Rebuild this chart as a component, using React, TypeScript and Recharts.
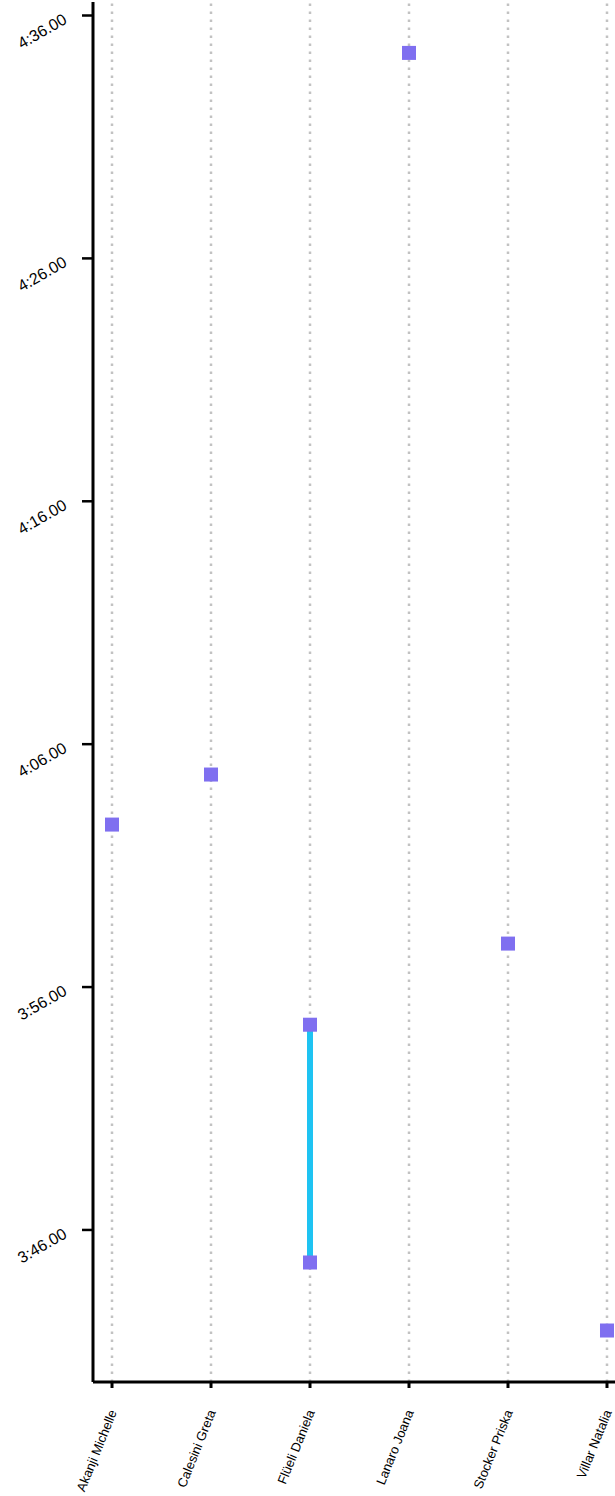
import { ScatterChart, Scatter, XAxis, YAxis, ReferenceLine } from 'recharts'

const athletes = [
  'Akanji Michelle',
  'Calesini Greta',
  'Flüeli Daniela',
  'Lanaro Joana',
  'Stocker Priska',
  'Villar Natalia',
]

// one entry per result: athlete index + time in seconds
const resultAthlete = [0, 1, 2, 2, 3, 4, 5]
const resultTimes = [242.69, 244.75, 234.45, 224.66, 274.46, 237.79, 221.86]

const xTicks = [0, 1, 2, 3, 4, 5]
const yTicks = [226, 236, 246, 256, 266, 276]

const points = resultAthlete.map((a, i) => ({ x: a, y: resultTimes[i] }))
// athletes with more than one result get a line from best to worst
const ranges = athletes
  .map((_, a) => points.filter((p) => p.x === a))
  .filter((g) => g.length > 1)

const formatTime = (s: number) => {
  const m = Math.floor(s / 60)
  return `${m}:${(s - m * 60).toFixed(2).padStart(5, '0')}`
}

const FONT = '"Liberation Sans", Arial, sans-serif'

function YTick({ x, y, payload }: any) {
  const ax = x - 14
  const ay = y + 7
  return (
    <text x={ax} y={ay} transform={`rotate(-30, ${ax}, ${ay})`} textAnchor="end" fontSize={16} fontFamily={FONT} fill="#000">
      {formatTime(payload.value)}
    </text>
  )
}

function XTick({ x, y, payload }: any) {
  const ax = x + 5
  const ay = y + 24
  return (
    <text x={ax} y={ay} transform={`rotate(-68, ${ax}, ${ay})`} textAnchor="end" fontSize={13} fontFamily={FONT} fill="#000">
      {athletes[payload.value]}
    </text>
  )
}

function Square({ cx, cy }: any) {
  return <rect x={cx - 7} y={cy - 7} width={14} height={14} fill="#7f6ff0" />
}

export default function App() {
  return (
    <div style={{ position: 'absolute', left: 0, top: 0, width: 615, height: 1496, overflow: 'hidden', background: '#fff' }}>
      <ScatterChart width={640} height={1496} margin={{ top: 2, right: 14, bottom: 0, left: 0 }}>
        <XAxis
          type="number"
          dataKey="x"
          domain={[-0.192, 5.192]}
          ticks={xTicks}
          interval={0}
          allowDataOverflow
          height={114}
          tickSize={6}
          tickMargin={0}
          axisLine={{ stroke: '#000', strokeWidth: 3 }}
          tickLine={{ stroke: '#000', strokeWidth: 3 }}
          tick={<XTick />}
        />
        <XAxis
          xAxisId="top"
          orientation="top"
          type="number"
          domain={[0, 1]}
          height={0}
          tick={false}
          tickLine={false}
          axisLine={{ stroke: '#000', strokeWidth: 3 }}
        />
        <YAxis
          type="number"
          dataKey="y"
          domain={[219.74, 276.556]}
          ticks={yTicks}
          interval={0}
          allowDataOverflow
          width={93}
          tickSize={11}
          tickMargin={0}
          axisLine={{ stroke: '#000', strokeWidth: 3 }}
          tickLine={{ stroke: '#000', strokeWidth: 2.5 }}
          tick={<YTick />}
        />
        {ranges.map((r, i) => (
          <Scatter
            key={`range-${i}`}
            data={r}
            line={{ stroke: '#1ec3f2', strokeWidth: 6 }}
            shape={() => <g />}
            isAnimationActive={false}
          />
        ))}
        <Scatter data={points} shape={<Square />} fill="#7f6ff0" isAnimationActive={false} />
        {xTicks.map((t) => (
          <ReferenceLine key={t} x={t} stroke="#c2c2c2" strokeWidth={2.5} strokeDasharray="2.5 5.5" />
        ))}
      </ScatterChart>
    </div>
  )
}
